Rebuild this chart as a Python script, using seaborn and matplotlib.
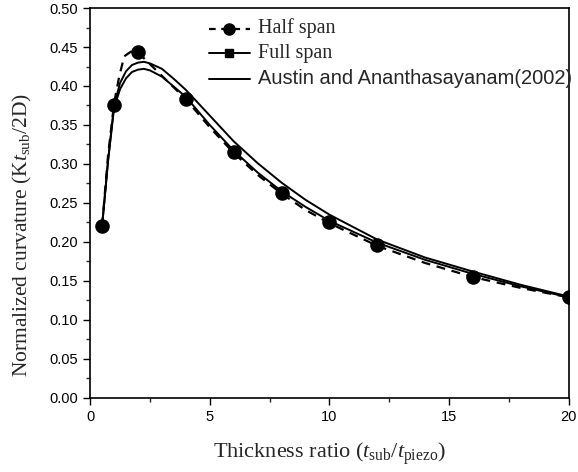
import matplotlib
matplotlib.use("Agg")
import matplotlib.pyplot as plt
from matplotlib.lines import Line2D
import seaborn as sns

# Half span (simulation points)
half_x = [0.5, 1, 2, 4, 6, 8, 10, 12, 16, 20]
half_y = [0.221, 0.375, 0.443, 0.383, 0.315, 0.263, 0.225, 0.196, 0.155, 0.129]

# Half span dashed curve
half_line_x = [0.5, 0.75, 1.0, 1.2, 1.42, 1.7, 2.0, 3.0, 4.0, 5.0, 6.0, 7.0, 8.0, 9.0, 10.0, 12.0, 14.0, 16.0, 18.0, 20.0]
half_line_y = [0.221, 0.312, 0.378, 0.410, 0.438, 0.444, 0.443, 0.413, 0.383, 0.347, 0.314, 0.286, 0.262, 0.241, 0.224, 0.195, 0.173, 0.155, 0.141, 0.129]

# Full span curve
full_x = [0.5, 0.75, 1.0, 1.25, 1.5, 1.75, 2.0, 2.25, 2.5, 3.0, 3.5, 4.0, 5.0, 6.0, 7.0, 8.0, 9.0, 10.0, 12.0, 14.0, 16.0, 18.0, 20.0]
full_y = [0.221, 0.305, 0.372, 0.396, 0.410, 0.418, 0.421, 0.422, 0.420, 0.412, 0.399, 0.386, 0.350, 0.317, 0.289, 0.265, 0.245, 0.227, 0.199, 0.177, 0.159, 0.143, 0.129]

# Austin and Ananthasayanam (2002)
austin_x = [0.5, 0.75, 1.0, 1.25, 1.5, 1.75, 2.0, 2.25, 2.5, 3.0, 3.5, 4.0, 5.0, 6.0, 7.0, 8.0, 9.0, 10.0, 12.0, 14.0, 16.0, 18.0, 20.0]
austin_y = [0.221, 0.305, 0.375, 0.404, 0.419, 0.427, 0.430, 0.431, 0.429, 0.422, 0.409, 0.395, 0.362, 0.329, 0.301, 0.276, 0.254, 0.235, 0.203, 0.180, 0.162, 0.145, 0.130]

labels = ["Half span", "Full span", "Austin and Ananthasayanam(2002)"]
xticks = [0, 5, 10, 15, 20]
yticks = [0.00, 0.05, 0.10, 0.15, 0.20, 0.25, 0.30, 0.35, 0.40, 0.45, 0.50]

sns.set_style("ticks")
plt.rcParams["font.family"] = ["Liberation Sans", "DejaVu Sans"]
plt.rcParams["mathtext.fontset"] = "custom"
plt.rcParams["mathtext.rm"] = "Liberation Serif"
plt.rcParams["mathtext.it"] = "Liberation Serif:italic"

fig = plt.figure(figsize=(5.78, 4.72), dpi=100)
ax = fig.add_axes([0.156, 0.157, 0.828, 0.826])

sns.lineplot(x=austin_x, y=austin_y, ax=ax, color="black", linewidth=1.4,
             estimator=None, sort=False)
sns.lineplot(x=full_x, y=full_y, ax=ax, color="black", linewidth=1.4,
             estimator=None, sort=False)
sns.lineplot(x=half_line_x, y=half_line_y, ax=ax, color="black", linewidth=1.6,
             linestyle=(0, (4, 3)), estimator=None, sort=False)
sns.scatterplot(x=half_x, y=half_y, ax=ax, color="black", s=110, marker="o",
                edgecolor="black", linewidth=0, zorder=5)

ax.set_xlim(0, 20)
ax.set_ylim(0, 0.5)
ax.set_xticks(xticks)
ax.set_xticklabels([str(t) for t in xticks])
ax.set_yticks(yticks)
ax.set_yticklabels([f"{t:.2f}" for t in yticks])
ax.set_xticks([2.5, 7.5, 12.5, 17.5], minor=True)
ax.set_yticks([0.025 + 0.05 * i for i in range(10)], minor=True)
ax.tick_params(axis="both", which="major", direction="out", length=5, width=1,
               labelsize=10.5, top=False, right=False, colors="black")
ax.tick_params(axis="both", which="minor", direction="out", length=3, width=1,
               top=False, right=False)
for s in ax.spines.values():
    s.set_visible(True)
    s.set_linewidth(1.2)
    s.set_color("black")

ax.set_xlabel(r"Thickness ratio ($t_{\rm sub}$/$t_{\rm piezo}$)",
              family="Liberation Serif", fontsize=16)
ax.xaxis.set_label_coords(0.5, -0.11)
ax.set_ylabel(r"Normalized curvature (K$t_{\rm sub}$/2D)",
              family="Liberation Serif", fontsize=15.5)
ax.yaxis.set_label_coords(-0.117, 0.417)

handles = [
    Line2D([], [], color="black", linestyle=(0, (3, 2.5)), linewidth=1.6,
           marker="o", markersize=8),
    Line2D([], [], color="black", linestyle="-", linewidth=1.4,
           marker="s", markersize=6),
    Line2D([], [], color="black", linestyle="-", linewidth=1.4),
]
leg = ax.legend(handles, labels, loc="upper left", bbox_to_anchor=(0.227, 0.998),
                frameon=False, handlelength=3.0, handletextpad=0.55,
                labelspacing=0.42, borderaxespad=0.3)
for i, t in enumerate(leg.get_texts()):
    if i < 2:
        t.set_fontfamily("Liberation Serif")
    else:
        t.set_fontfamily("Liberation Sans")
    t.set_fontsize(14.5)

fig.savefig("out.png", dpi=100)
